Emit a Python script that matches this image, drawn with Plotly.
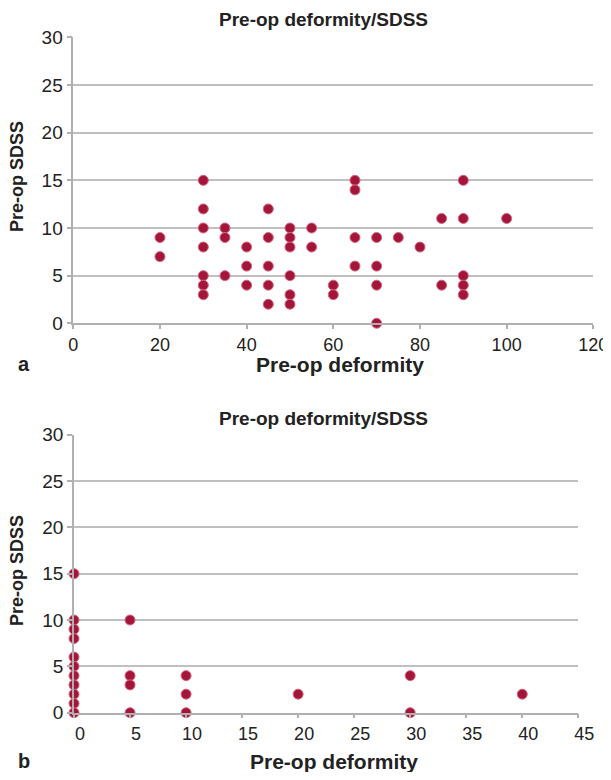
import plotly.graph_objects as go

# Panel a data
a_deformity = [20, 20,
               30, 30, 30, 30, 30, 30, 30,
               35, 35, 35,
               40, 40, 40,
               45, 45, 45, 45, 45,
               50, 50, 50, 50, 50, 50,
               55, 55,
               60, 60,
               65, 65, 65, 65,
               70, 70, 70, 70,
               75, 80,
               85, 85,
               90, 90, 90, 90, 90,
               100]
a_sdss = [9, 7,
          15, 12, 10, 8, 5, 4, 3,
          10, 9, 5,
          8, 6, 4,
          12, 9, 6, 4, 2,
          10, 9, 8, 5, 3, 2,
          10, 8,
          4, 3,
          15, 14, 9, 6,
          9, 6, 4, 0,
          9, 8,
          11, 4,
          15, 11, 5, 4, 3,
          11]

# Panel b data
b_deformity = [0, 0, 0, 0, 0, 0, 0, 0, 0, 0, 0,
               5, 5, 5, 5,
               10, 10, 10,
               20,
               30, 30,
               40]
b_sdss = [15, 10, 9, 8, 6, 5, 4, 3, 2, 1, 0,
          10, 4, 3, 0,
          4, 2, 0,
          2,
          4, 0,
          2]

a_xticks = [0, 20, 40, 60, 80, 100, 120]
b_xticks = [0, 5, 10, 15, 20, 25, 30, 35, 40, 45]
yticks = [0, 5, 10, 15, 20, 25, 30]

# page body has an 8px margin; size the figure so the page fits the window without scrollbars
OFF = 8
W, H = 611 - OFF, 780 - 2 * OFF
FONT = "Liberation Sans, Arial, sans-serif"
GRID = "#c0c0c0"
AXIS = "#b0b0b0"
TXT = "#222222"
MCOL = "#a3163a"
MLINE = "#d6667f"


def px_x(p):
    return (p - OFF) / W


def px_y(p):
    return 1 - (p - OFF) / H


fig = go.Figure()

marker = dict(color=MCOL, size=10, line=dict(color=MLINE, width=1))

fig.add_trace(go.Scatter(x=a_deformity, y=a_sdss, mode="markers", marker=marker,
                         xaxis="x", yaxis="y", cliponaxis=False, showlegend=False))
fig.add_trace(go.Scatter(x=b_deformity, y=b_sdss, mode="markers", marker=marker,
                         xaxis="x2", yaxis="y2", cliponaxis=False, showlegend=False))

common_x = dict(showgrid=False, zeroline=False, showline=True, linecolor=AXIS, linewidth=1.5,
                ticks="outside", ticklen=4, tickcolor=AXIS, tickwidth=1.5,
                tickfont=dict(family=FONT, size=18, color=TXT), fixedrange=True,
                automargin=False)
common_y = dict(showgrid=True, gridcolor=GRID, gridwidth=1.6, zeroline=False,
                showline=True, linecolor=AXIS, linewidth=1.5,
                ticks="outside", ticklen=5, tickcolor=AXIS, tickwidth=1.5,
                tickfont=dict(family=FONT, size=19, color=TXT),
                tickmode="array", tickvals=yticks, range=[0, 30], fixedrange=True,
                automargin=False)

fig.update_layout(
    width=W, height=H,
    margin=dict(l=0, r=0, t=0, b=0, pad=0, autoexpand=False),
    paper_bgcolor="white", plot_bgcolor="white",
    xaxis=dict(common_x, domain=[px_x(73.3), px_x(593.3)], range=[0, 120],
               tickmode="array", tickvals=a_xticks, anchor="y"),
    yaxis=dict(common_y, domain=[px_y(323.3), px_y(37.4)], anchor="x"),
    xaxis2=dict(common_x, domain=[px_x(74), px_x(578.3)], range=[0, 45],
                tickmode="array", tickvals=b_xticks, anchor="y2", ticklabelshift=6),
    yaxis2=dict(common_y, domain=[px_y(712.7), px_y(434.7)], anchor="x2"),
)


def ann(text, x, y, size, bold=True, angle=0):
    fig.add_annotation(text=f"<b>{text}</b>" if bold else text,
                       x=px_x(x), y=px_y(y), xref="paper", yref="paper",
                       showarrow=False, textangle=angle,
                       font=dict(family=FONT, size=size, color=TXT),
                       xanchor="center", yanchor="middle")


ann("Pre-op deformity/SDSS", 324, 20, 19)
ann("Pre-op deformity/SDSS", 324, 418, 19)
ann("Pre-op deformity", 340, 364, 21)
ann("Pre-op deformity", 334, 761, 21)
ann("Pre-op SDSS", 17, 177, 18, angle=-90)
ann("Pre-op SDSS", 17, 571, 18, angle=-90)
ann("a", 24, 364, 20)
ann("b", 24, 761, 20)

fig.write_html("out.html")
